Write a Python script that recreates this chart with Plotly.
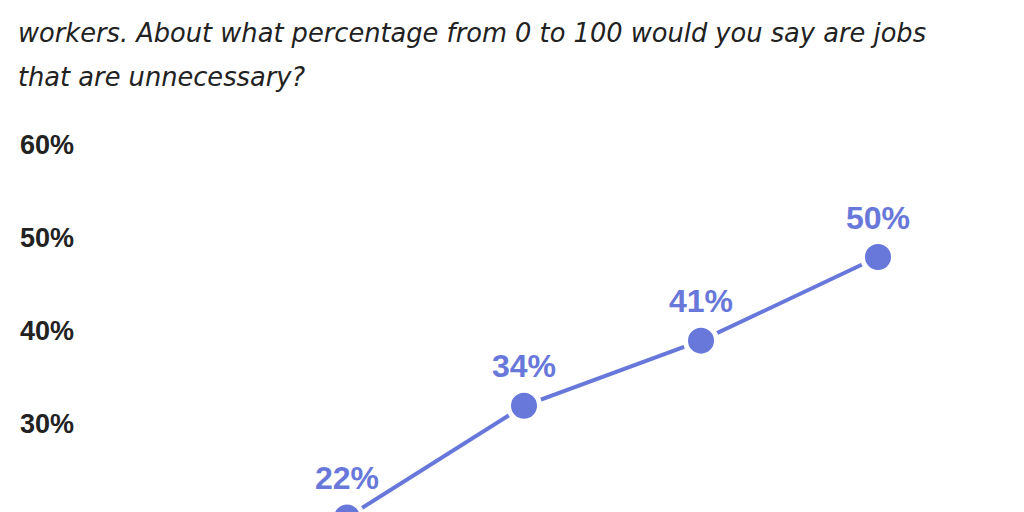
import plotly.graph_objects as go

# Data
categories = ["Group 1", "Group 2", "Group 3", "Group 4", "Group 5"]
values = [18, 22, 34, 41, 50]
value_labels = ["18%", "22%", "34%", "41%", "50%"]
tick_values = [20, 30, 40, 50, 60]
tick_labels = ["20%", "30%", "40%", "50%", "60%"]
title_lines = [
    "It's often thought that work done by employees at most firms is not",
    "workers. About what percentage from 0 to 100 would you say are jobs",
    "that are unnecessary?",
]

COLOR = "#6878DA"
TEXT = "#222222"
W, H = 1024, 512
L = 67

x_idx = list(range(len(categories)))

fig = go.Figure()
fig.add_trace(go.Scatter(
    x=x_idx, y=values, mode="lines+markers+text",
    text=value_labels, textposition="top center",
    textfont=dict(family="Liberation Sans", size=32, color=COLOR, weight="bold"),
    line=dict(color=COLOR, width=4),
    marker=dict(size=31, color=COLOR, line=dict(color="white", width=5)),
    cliponaxis=False, hoverinfo="skip",
))

annotations = []
title_px = [-15, 25, 69]
for line, py in zip(title_lines, title_px):
    annotations.append(dict(
        x=(8 - L) / (W - L), y=1 - py / H, xref="paper", yref="paper",
        xanchor="left", yanchor="middle",
        text=f"<i>{line}</i>", showarrow=False,
        font=dict(family="DejaVu Sans", size=25.7, color=TEXT),
    ))

fig.update_layout(
    width=W, height=H,
    margin=dict(l=L, r=0, t=0, b=0),
    paper_bgcolor="white", plot_bgcolor="white",
    showlegend=False,
    annotations=annotations,
    xaxis=dict(range=[-0.5367, 4.870], showticklabels=False, showgrid=False,
               zeroline=False, showline=False, fixedrange=True),
    yaxis=dict(range=[21.72, 76.77], tickvals=tick_values, ticktext=tick_labels,
               showgrid=False, zeroline=False, showline=False,
               ticklabelshift=-19,
               tickfont=dict(family="Liberation Sans", size=27, color=TEXT, weight="bold")),
)

fig.write_html("out.html")
